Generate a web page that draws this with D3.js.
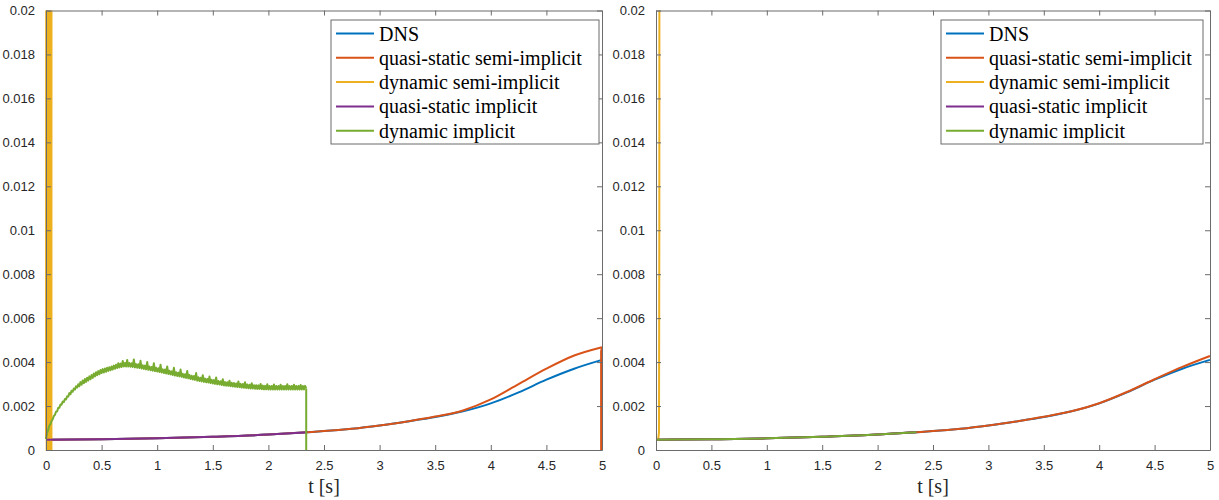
<!DOCTYPE html>
<html>
<head>
<meta charset="utf-8">
<script src="https://cdn.jsdelivr.net/npm/d3@7"></script>
<style>
  html, body { margin: 0; padding: 0; background: #fff; }
  svg { display: block; }
</style>
</head>
<body>
<svg id="chart" width="1219" height="500"></svg>
<script>
// ---------------- data ----------------
const seriesNames = ["DNS", "quasi-static semi-implicit", "dynamic semi-implicit", "quasi-static implicit", "dynamic implicit"];
const seriesColors = ["#0072BD", "#D95319", "#EDB120", "#7E2F8E", "#77AC30"];

const xTicks = [0, 0.5, 1, 1.5, 2, 2.5, 3, 3.5, 4, 4.5, 5];
const yTicks = [0, 0.002, 0.004, 0.006, 0.008, 0.01, 0.012, 0.014, 0.016, 0.018, 0.02];
const xLabel = "t [s]";

// smooth time grid
const tSmooth = [0, 0.5, 1, 1.5, 2, 2.35, 2.5, 2.75, 3, 3.25, 3.5, 3.75, 4, 4.25, 4.5, 4.75, 5];
const dnsValues = [0.00047, 0.00049, 0.00053, 0.00060, 0.00070, 0.00081, 0.00086, 0.00097, 0.00112, 0.00130, 0.00150, 0.00176, 0.00212, 0.00262, 0.00320, 0.00370, 0.00410];
const qsSemiLeft = [0.00047, 0.00049, 0.00053, 0.00060, 0.00070, 0.00081, 0.00086, 0.00097, 0.00112, 0.00130, 0.00152, 0.00180, 0.00230, 0.00300, 0.00370, 0.00430, 0.00468];
const qsSemiRight = [0.00047, 0.00049, 0.00053, 0.00060, 0.00070, 0.00081, 0.00086, 0.00097, 0.00112, 0.00130, 0.00151, 0.00176, 0.00213, 0.00264, 0.00322, 0.00378, 0.00428];
const qsSemiLeftDrop = [{ t: 5, v: 0.00468 }, { t: 4.992, v: 0.0045 }, { t: 4.992, v: 0 }];

// implicit solutions end at t = 2.35
const tImplicit = [0, 0.5, 1, 1.5, 2, 2.35];
const qsImplicit = [0.00047, 0.00049, 0.00053, 0.00060, 0.00070, 0.00081];
const dynImplicitRight = [0.00047, 0.00049, 0.00053, 0.00060, 0.00070, 0.00081];

// dynamic implicit (left), sampled every 0.01 s from t = 0 to 2.34, values in units of 1e-5
const dynImplicitStep = 0.01;
const dynImplicitLeftE5 = [
  50, 77, 93, 110, 118, 132, 140, 154, 160, 174,
  176, 192, 192, 207, 206, 220, 218, 232, 230, 244,
  243, 259, 254, 270, 265, 280, 275, 290, 284, 299,
  290, 309, 297, 316, 304, 323, 310, 329, 316, 335,
  322, 341, 328, 348, 335, 354, 340, 359, 345, 364,
  350, 368, 353, 371, 356, 374, 360, 377, 363, 380,
  366, 384, 370, 388, 373, 395, 376, 393, 378, 405,
  380, 396, 380, 410, 380, 396, 379, 395, 378, 412,
  376, 391, 374, 390, 373, 406, 371, 386, 369, 384,
  367, 400, 365, 380, 363, 378, 361, 395, 359, 374,
  357, 372, 355, 388, 353, 367, 350, 366, 348, 380,
  346, 361, 344, 358, 341, 374, 339, 354, 337, 352,
  335, 366, 333, 347, 330, 345, 328, 360, 326, 341,
  323, 338, 321, 337, 319, 350, 316, 331, 314, 329,
  312, 340, 310, 325, 308, 323, 307, 334, 305, 320,
  303, 318, 301, 330, 299, 314, 298, 313, 296, 322,
  294, 309, 293, 308, 292, 315, 290, 306, 289, 305,
  288, 303, 287, 312, 286, 301, 284, 300, 283, 308,
  282, 298, 281, 297, 280, 304, 280, 295, 279, 295,
  278, 294, 278, 300, 277, 293, 276, 292, 276, 299,
  275, 291, 275, 291, 275, 298, 275, 291, 275, 291,
  275, 297, 275, 291, 275, 291, 275, 299, 275, 291,
  275, 291, 275, 297, 275, 291, 275, 291, 275, 296,
  275, 291, 276, 292, 280
];
const dynImplicitLeftDrop = [{ t: 2.34, v: 0.0028 }, { t: 2.34, v: 0 }];

// dynamic semi-implicit: blows up right at the start
const tDynSemiLeft = [0, 0.004, 0.008, 0.012, 0.016, 0.02, 0.024, 0.028, 0.032, 0.036, 0.04, 0.044, 0.048, 0.05];
const dynSemiLeft = [0.0005, 0.05, -0.05, 0.05, -0.05, 0.05, -0.05, 0.05, -0.05, 0.05, -0.05, 0.05, -0.05, 0.05];
const tDynSemiRight = [0, 0.02, 0.027, 0.03, 0.032];
const dynSemiRight = [0.00047, 0.00048, 0.0008, 0.01, 0.05];

// ---------------- layout ----------------
const svg = d3.select("#chart");
const panels = [
  { left: 46, right: 602, top: 10.5, bottom: 450, legendX: 331, legendW: 268 },
  { left: 656, right: 1210, top: 10.5, bottom: 450, legendX: 941, legendW: 262 }
];

function zip(ts, vs) { return ts.map((t, i) => ({ t: t, v: vs[i] })); }

const smoothCurve = d3.curveMonotoneX;
const panelSeries = [
  [
    [{ pts: zip(tSmooth, dnsValues), curve: smoothCurve }],
    [{ pts: zip(tSmooth, qsSemiLeft), curve: smoothCurve }, { pts: qsSemiLeftDrop, curve: d3.curveLinear }],
    [{ pts: zip(tDynSemiLeft, dynSemiLeft), curve: d3.curveLinear }],
    [{ pts: zip(tImplicit, qsImplicit), curve: smoothCurve }],
    [{ pts: dynImplicitLeftE5.map((v, i) => ({ t: i * dynImplicitStep, v: v * 1e-5 })), curve: d3.curveLinear },
     { pts: dynImplicitLeftDrop, curve: d3.curveLinear }]
  ],
  [
    [{ pts: zip(tSmooth, dnsValues), curve: smoothCurve }],
    [{ pts: zip(tSmooth, qsSemiRight), curve: smoothCurve }],
    [{ pts: zip(tDynSemiRight, dynSemiRight), curve: d3.curveLinear }],
    [{ pts: zip(tImplicit, qsImplicit), curve: smoothCurve }],
    [{ pts: zip(tImplicit, dynImplicitRight), curve: smoothCurve }]
  ]
];

const axisColor = "#6b6b6b";
const textColor = "#262626";

panels.forEach((p, pi) => {
  const x = d3.scaleLinear().domain([0, 5]).range([p.left, p.right]);
  const y = d3.scaleLinear().domain([0, 0.02]).range([p.bottom, p.top]);
  const g = svg.append("g");

  const clipId = "clip" + pi;
  svg.append("defs").append("clipPath").attr("id", clipId)
    .append("rect").attr("x", p.left - 1).attr("y", p.top)
    .attr("width", p.right - p.left + 3).attr("height", p.bottom - p.top + 1);

  // lines
  const lg = g.append("g").attr("clip-path", `url(#${clipId})`);
  panelSeries[pi].forEach((parts, si) => {
    parts.forEach(part => {
      const line = d3.line().x(d => x(d.t)).y(d => y(d.v)).curve(part.curve);
      lg.append("path").datum(part.pts)
        .attr("d", line)
        .attr("fill", "none")
        .attr("stroke", seriesColors[si])
        .attr("stroke-width", 2)
        .attr("stroke-linejoin", "round");
    });
  });

  const fmtY = v => v === 0 ? "0" : String(+v.toFixed(3));
  const fmtX = v => String(v);

  // axes (MATLAB-style inward ticks)
  const ax = g.append("g").attr("transform", `translate(0,${p.bottom})`)
    .call(d3.axisBottom(x).tickValues(xTicks).tickFormat(fmtX).tickSizeInner(-5).tickSizeOuter(0).tickPadding(11));
  const axT = g.append("g").attr("transform", `translate(0,${p.top})`)
    .call(d3.axisTop(x).tickValues(xTicks).tickFormat("").tickSizeInner(-5).tickSizeOuter(0));
  const ay = g.append("g").attr("transform", `translate(${p.left},0)`)
    .call(d3.axisLeft(y).tickValues(yTicks).tickFormat(fmtY).tickSizeInner(-5).tickSizeOuter(0).tickPadding(11));
  const ayR = g.append("g").attr("transform", `translate(${p.right},0)`)
    .call(d3.axisRight(y).tickValues(yTicks).tickFormat("").tickSizeInner(-5).tickSizeOuter(0));

  [ax, axT, ay, ayR].forEach(a => {
    a.select(".domain").attr("stroke", axisColor).attr("stroke-width", 1);
    a.selectAll(".tick line").attr("stroke", axisColor).attr("stroke-width", 1);
    a.selectAll(".tick text").attr("fill", textColor)
      .attr("font-family", "'Liberation Sans', Arial, Helvetica, sans-serif")
      .attr("font-size", 13);
  });

  // x label
  g.append("text")
    .attr("x", (p.left + p.right) / 2)
    .attr("y", 493)
    .attr("text-anchor", "middle")
    .attr("font-family", "'Liberation Serif', 'Times New Roman', serif")
    .attr("font-size", 20)
    .attr("fill", textColor)
    .text(xLabel);

  // legend
  const leg = g.append("g");
  leg.append("rect")
    .attr("x", p.legendX).attr("y", 20)
    .attr("width", p.legendW).attr("height", 124)
    .attr("fill", "#fff").attr("stroke", axisColor).attr("stroke-width", 1);
  seriesNames.forEach((name, si) => {
    const ly = 33.5 + si * 24.3;
    leg.append("line")
      .attr("x1", p.legendX + 5).attr("x2", p.legendX + 43)
      .attr("y1", ly).attr("y2", ly)
      .attr("stroke", seriesColors[si]).attr("stroke-width", 2);
    leg.append("text")
      .attr("x", p.legendX + 48).attr("y", ly + 7)
      .attr("font-family", "'Liberation Serif', 'Times New Roman', serif")
      .attr("font-size", 20)
      .attr("fill", "#000")
      .text(name);
  });
});
</script>
</body>
</html>
